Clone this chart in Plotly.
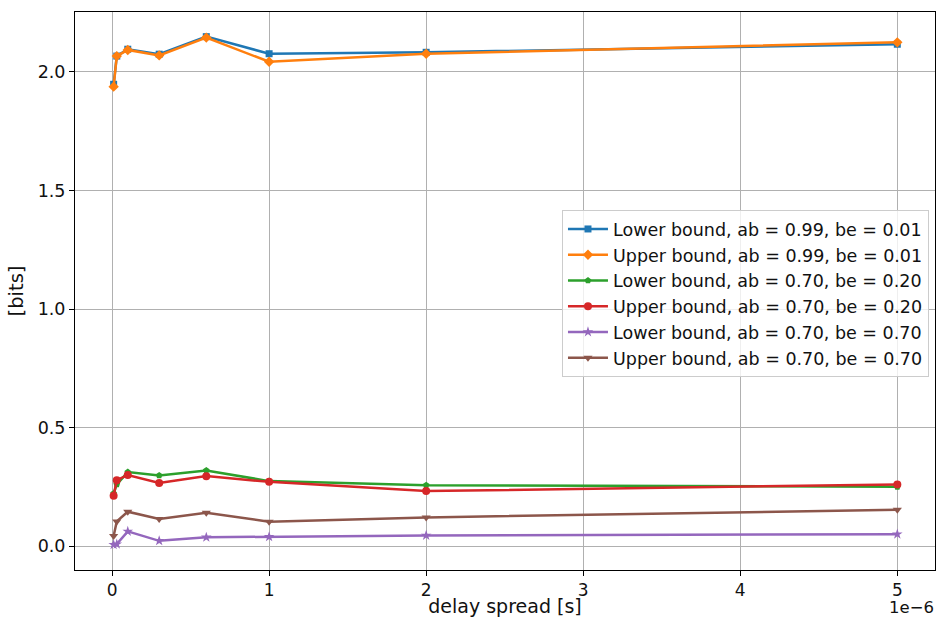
import plotly.graph_objects as go

delay = [0.01e-6, 0.03e-6, 0.1e-6, 0.3e-6, 0.6e-6, 1e-6, 2e-6, 5e-6]

lb_99_01 = [1.948, 2.067, 2.096, 2.075, 2.149, 2.077, 2.083, 2.117]
ub_99_01 = [1.938, 2.067, 2.093, 2.070, 2.145, 2.043, 2.077, 2.125]
lb_70_20 = [0.222, 0.260, 0.312, 0.298, 0.319, 0.274, 0.257, 0.250]
ub_70_20 = [0.212, 0.278, 0.300, 0.266, 0.295, 0.271, 0.232, 0.260]
lb_70_70 = [0.006, 0.008, 0.062, 0.022, 0.037, 0.039, 0.045, 0.050]
ub_70_70 = [0.042, 0.104, 0.145, 0.114, 0.141, 0.103, 0.121, 0.153]

names = [
    "Lower bound, ab = 0.99, be = 0.01",
    "Upper bound, ab = 0.99, be = 0.01",
    "Lower bound, ab = 0.70, be = 0.20",
    "Upper bound, ab = 0.70, be = 0.20",
    "Lower bound, ab = 0.70, be = 0.70",
    "Upper bound, ab = 0.70, be = 0.70",
]
series = [lb_99_01, ub_99_01, lb_70_20, ub_70_20, lb_70_70, ub_70_70]
colors = ["#1f77b4", "#ff7f0e", "#2ca02c", "#d62728", "#9467bd", "#8c564b"]
symbols = ["square", "diamond", "pentagon", "circle", "star", "triangle-down"]
sizes = [7, 8, 7, 8, 8, 8]

x_ticks = [0, 1e-6, 2e-6, 3e-6, 4e-6, 5e-6]
x_ticktext = ["0", "1", "2", "3", "4", "5"]
y_ticks = [0.0, 0.5, 1.0, 1.5, 2.0]
y_ticktext = ["0.0", "0.5", "1.0", "1.5", "2.0"]

fig = go.Figure()
for nm, ys, c, s, sz in zip(names, series, colors, symbols, sizes):
    fig.add_trace(go.Scatter(
        x=delay, y=ys, name=nm, mode="lines+markers",
        line=dict(color=c, width=2.5),
        marker=dict(symbol=s, size=sz, color=c),
    ))

font = "DejaVu Sans, sans-serif"
fig.update_layout(
    width=940, height=617,
    margin=dict(l=75, r=5, t=12, b=47),
    paper_bgcolor="white", plot_bgcolor="white",
    font=dict(family=font, size=17.5, color="#111111"),
    showlegend=True,
    legend=dict(
        x=0.993, y=0.645, xanchor="right", yanchor="top",
        bgcolor="rgba(255,255,255,0.8)", bordercolor="#cccccc", borderwidth=1,
        font=dict(size=17.5), tracegroupgap=0, itemwidth=40,
    ),
    xaxis=dict(
        range=[-0.236e-6, 5.24e-6],
        tickvals=x_ticks, ticktext=x_ticktext, tickfont=dict(size=17),
        showgrid=True, gridcolor="#b0b0b0", gridwidth=1,
        showline=True, linecolor="black", linewidth=1, mirror=True,
        ticks="outside", ticklen=5, tickcolor="black",
        zeroline=False, automargin=False,
        title=dict(text="delay spread [s]", font=dict(size=19), standoff=8),
    ),
    yaxis=dict(
        range=[-0.101, 2.253],
        tickvals=y_ticks, ticktext=y_ticktext,
        showgrid=True, gridcolor="#b0b0b0", gridwidth=1,
        showline=True, linecolor="black", linewidth=1, mirror=True,
        ticks="outside", ticklen=5, tickcolor="black",
        zeroline=False, automargin=False,
        title=dict(text="[bits]", font=dict(size=19.5), standoff=8),
    ),
)
fig.add_annotation(
    x=1, y=-0.049, xref="paper", yref="paper", xanchor="right", yanchor="top",
    borderpad=0,
    text="1e\u22126", showarrow=False, font=dict(size=16.5),
)
fig.write_html("out.html")
